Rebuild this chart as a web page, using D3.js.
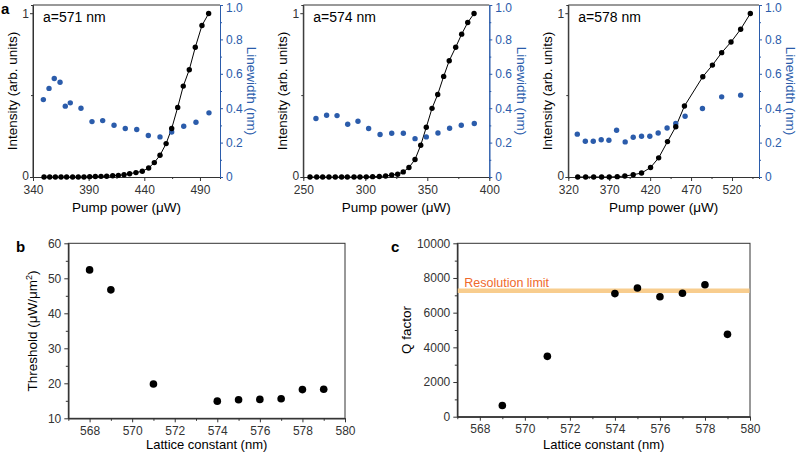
<!DOCTYPE html>
<html><head><meta charset="utf-8">
<script src="https://cdn.jsdelivr.net/npm/d3@7"></script>
<style>
body{margin:0;background:#fff}
svg{display:block}
text{font-family:"Liberation Sans",Arial,Helvetica,sans-serif}
</style>
</head><body>
<svg id="chart" width="798" height="457"></svg>
<script>
// ---------- DATA ----------
// Panel a, a = 571 nm
const a571Power = [349.9,355.0,360.1,365.2,370.2,375.6,380.7,385.8,390.9,396.0,401.1,406.2,411.6,416.7,421.8,426.8,432.5,438.2,443.9,449.0,454.1,459.6,464.6,470.0,475.0,480.4,485.8,491.8,497.8];
const a571Intensity = [0,0,0,0,0,0,0,0,0.002,0.003,0.004,0.005,0.008,0.010,0.014,0.020,0.027,0.035,0.055,0.088,0.133,0.204,0.296,0.425,0.555,0.655,0.792,0.925,0.998];
const a571LwPower = [349.3,354.4,359.1,364.3,369.0,373.5,383.1,393.0,402.6,412.8,422.9,433.2,443.6,454.1,464.6,475.4,486.4,498.1];
const a571Linewidth = [0.450,0.515,0.573,0.551,0.412,0.431,0.400,0.322,0.328,0.301,0.282,0.276,0.241,0.233,0.262,0.295,0.318,0.373];
// Panel a, a = 574 nm
const a574Power = [255.4,260.8,265.6,270.7,275.8,280.9,285.5,290.9,295.7,300.8,305.9,311.3,316.4,321.3,326.1,330.6,335.2,340.1,344.7,349.2,353.8,358.4,363.2,367.7,372.9,377.7,382.6,387.7];
const a574Intensity = [0,0,0,0,0,0,0,0,0,0.001,0.002,0.003,0.006,0.012,0.017,0.031,0.058,0.107,0.194,0.304,0.419,0.504,0.614,0.710,0.792,0.872,0.943,0.998];
const a574LwPower = [260.2,268.8,277.2,285.8,294.1,302.7,311.9,321.3,330.7,340.1,349.2,358.6,368.0,377.4,387.9];
const a574Linewidth = [0.340,0.359,0.357,0.307,0.324,0.282,0.247,0.254,0.254,0.223,0.233,0.256,0.283,0.301,0.311];
// Panel a, a = 578 nm
const a578Power = [331.5,341.2,351.0,360.7,370.0,379.8,389.1,399.3,409.5,420.5,430.4,441.2,451.3,461.9,484.3,496.1,507.4,518.8,530.6,542.4];
const a578Intensity = [0,0,0,0,0,0.002,0.006,0.014,0.024,0.058,0.117,0.216,0.307,0.433,0.612,0.683,0.759,0.824,0.902,0.998];
const a578LwPower = [331.0,340.8,350.5,360.2,369.6,379.0,389.5,399.3,409.5,419.6,429.8,440.7,451.3,462.7,483.9,507.4,530.6];
const a578Linewidth = [0.249,0.208,0.208,0.217,0.214,0.272,0.204,0.231,0.237,0.237,0.256,0.285,0.311,0.353,0.398,0.466,0.476];
// Tick labels panel a
const a571XTicks = [340,390,440,490];
const a574XTicks = [250,300,350,400];
const a578XTicks = [320,370,420,470,520];
const intensityTicks = [0,1];
const linewidthTicks = [0,0.2,0.4,0.6,0.8,1.0];
// Panel b
const bLattice = [568,569,571,574,575,576,577,578,579];
const bThreshold = [52.4,46.7,19.8,14.9,15.3,15.4,15.6,18.2,18.3];
const bYTicks = [10,20,30,40,50,60];
// Panel c
const cLattice = [569,571,574,575,576,577,578,579];
const cQ = [650,3480,7100,7420,6920,7120,7610,4750];
const cResolutionLimit = 7270;
const cYTicks = [0,2000,4000,6000,8000,10000];
const latticeTicks = [568,570,572,574,576,578,580];

// ---------- DRAW ----------
const svg = d3.select("#chart");
const BLUE = "#2b5cab";
const AX = "#333";

function styleAxis(sel, color, fs){
  sel.select(".domain").attr("stroke", color);
  sel.selectAll(".tick line").attr("stroke", color);
  sel.selectAll(".tick text").attr("fill", color).style("font-size", fs+"px")
     .style("font-family", '"Liberation Sans",Arial,sans-serif');
}

function drawA(cfg){
  const x = d3.scaleLinear().domain(cfg.xDomain).range(cfg.xRange);
  const yL = d3.scaleLinear().domain([0,1.05]).range([177,5]);
  const yR = d3.scaleLinear().domain([0,1]).range([177,5]);
  const g = svg.append("g");
  const [x0,x1] = cfg.xRange;
  g.append("line").attr("x1",x0).attr("x2",x1).attr("y1",5).attr("y2",5).attr("stroke",AX);
  const xMinor = g.append("g").attr("transform","translate(0,177)")
    .call(d3.axisBottom(x).tickValues(cfg.xMinor).tickSize(2).tickFormat(""));
  styleAxis(xMinor, AX, 12);
  const xa = g.append("g").attr("transform","translate(0,177)")
    .call(d3.axisBottom(x).tickValues(cfg.xTicks).tickSize(4).tickPadding(4).tickSizeOuter(0).tickFormat(d3.format("d")));
  styleAxis(xa, AX, 12);
  const yaMinor = g.append("g").attr("transform",`translate(${x0},0)`)
    .call(d3.axisLeft(yL).tickValues([0.5]).tickSize(2).tickFormat(""));
  styleAxis(yaMinor, AX, 12);
  const ya = g.append("g").attr("transform",`translate(${x0},0)`)
    .call(d3.axisLeft(yL).tickValues(intensityTicks).tickSize(3).tickPadding(1).tickSizeOuter(0).tickFormat(d3.format("d")));
  styleAxis(ya, AX, 12);
  ya.select(".domain").attr("d", `M0,177V5`);
  // lift the "0" a touch so it does not touch the first x label
  ya.selectAll(".tick text").filter(d => d === 0).attr("dy","0.2em");
  const yrMinor = g.append("g").attr("transform",`translate(${x1},0)`)
    .call(d3.axisRight(yR).tickValues([0.1,0.3,0.5,0.7,0.9]).tickSize(2).tickFormat(""));
  styleAxis(yrMinor, BLUE, 12);
  const yr = g.append("g").attr("transform",`translate(${x1},0)`)
    .call(d3.axisRight(yR).tickValues(linewidthTicks).tickSize(3).tickPadding(3).tickSizeOuter(0)
      .tickFormat(d => d===0 ? "0" : d3.format(".1f")(d)));
  styleAxis(yr, BLUE, 12);
  yr.selectAll(".tick text").filter(d => d === 1).attr("dy","0.52em");
  const pts = cfg.power.map((p,i)=>[p,cfg.intensity[i]]);
  g.append("path").datum(pts).attr("fill","none").attr("stroke","#000").attr("stroke-width",1)
    .attr("d", d3.line().x(d=>x(d[0])).y(d=>yL(d[1])));
  g.selectAll(".lw").data(cfg.lwPower.map((p,i)=>[p,cfg.linewidth[i]])).enter().append("circle")
    .attr("cx",d=>x(d[0])).attr("cy",d=>yR(d[1])).attr("r",2.7).attr("fill",BLUE);
  g.selectAll(".in").data(pts).enter().append("circle")
    .attr("cx",d=>x(d[0])).attr("cy",d=>yL(d[1])).attr("r",2.7).attr("fill","#000");
  g.append("text").attr("x",x0+10).attr("y",22).style("font-size","14px").text(cfg.label);
  g.append("text").attr("x",(x0+x1)/2).attr("y",212).attr("text-anchor","middle")
    .style("font-size","13.5px").text("Pump power (\u03bcW)");
  g.append("text").attr("transform",`translate(${x0-21},91) rotate(-90)`).attr("text-anchor","middle")
    .attr("dy","0.35em").style("font-size","13.5px").text("Intensity (arb. units)");
  g.append("text").attr("transform",`translate(${x1+32},91) rotate(90)`).attr("text-anchor","middle")
    .attr("dy","0.35em").style("font-size","13.5px").attr("fill",BLUE).text("Linewidth (nm)");
}

drawA({label:"a=571 nm", xDomain:[340,508], xRange:[33,220], xTicks:a571XTicks, xMinor:[365,415,465],
  power:a571Power, intensity:a571Intensity, lwPower:a571LwPower, linewidth:a571Linewidth});
drawA({label:"a=574 nm", xDomain:[250,400], xRange:[303.3,489.3], xTicks:a574XTicks, xMinor:[275,325,375],
  power:a574Power, intensity:a574Intensity, lwPower:a574LwPower, linewidth:a574Linewidth});
drawA({label:"a=578 nm", xDomain:[320,553], xRange:[568.3,759], xTicks:a578XTicks, xMinor:[345,395,445,495,545],
  power:a578Power, intensity:a578Intensity, lwPower:a578LwPower, linewidth:a578Linewidth});

function drawBox(cfg){
  const x = d3.scaleLinear().domain([567,580]).range(cfg.xRange);
  const y = d3.scaleLinear().domain(cfg.yDomain).range(cfg.yRange);
  const g = svg.append("g");
  const [x0,x1] = cfg.xRange, [yb,yt] = cfg.yRange;
  g.append("rect").attr("x",x0).attr("y",yt).attr("width",x1-x0).attr("height",yb-yt)
    .attr("fill","none").attr("stroke",AX);
  const xm = g.append("g").attr("transform",`translate(0,${yb})`)
    .call(d3.axisBottom(x).tickValues([567,569,571,573,575,577,579]).tickSize(2.5).tickFormat("").tickSizeOuter(0));
  styleAxis(xm, AX, 12);
  const xa = g.append("g").attr("transform",`translate(0,${yb})`)
    .call(d3.axisBottom(x).tickValues(latticeTicks).tickSize(4).tickPadding(4).tickSizeOuter(0).tickFormat(d3.format("d")));
  styleAxis(xa, AX, 12);
  const ym = g.append("g").attr("transform",`translate(${x0},0)`)
    .call(d3.axisLeft(y).tickValues(cfg.yMinor).tickSize(2.5).tickFormat("").tickSizeOuter(0));
  styleAxis(ym, AX, 12);
  const ya = g.append("g").attr("transform",`translate(${x0},0)`)
    .call(d3.axisLeft(y).tickValues(cfg.yTicks).tickSize(4).tickPadding(3).tickSizeOuter(0).tickFormat(d3.format("d")));
  styleAxis(ya, AX, 12);
  if (cfg.band !== undefined){
    g.append("line").attr("x1",x0+0.5).attr("x2",x1-0.5).attr("y1",y(cfg.band)).attr("y2",y(cfg.band))
      .attr("stroke","#f8cd8e").attr("stroke-width",4.5);
    g.append("text").attr("x",x0+7).attr("y",y(cfg.band)-4).attr("fill","#f0692a")
      .style("font-size","12.5px").text("Resolution limit");
  }
  g.selectAll(".p").data(cfg.xs.map((v,i)=>[v,cfg.ys[i]])).enter().append("circle")
    .attr("cx",d=>x(d[0])).attr("cy",d=>y(d[1])).attr("r",3.8).attr("fill","#000");
  g.append("text").attr("x",(x0+x1)/2).attr("y",449).attr("text-anchor","middle")
    .style("font-size","13px").text("Lattice constant (nm)");
  return g;
}

const gb = drawBox({xRange:[68.3,345], yDomain:[10,60], yRange:[418.3,243.3], yTicks:bYTicks,
  yMinor:[15,25,35,45,55], xs:bLattice, ys:bThreshold});
const tb = gb.append("text").attr("transform","translate(32,331) rotate(-90)").attr("text-anchor","middle")
  .attr("dy","0.35em").style("font-size","13.5px");
tb.append("tspan").text("Threshold (\u03bcW/\u03bcm");
tb.append("tspan").attr("dy","-5").style("font-size","9px").text("2");
tb.append("tspan").attr("dy","5").text(")");

const gc = drawBox({xRange:[457.3,750], yDomain:[0,10000], yRange:[416.7,243.3], yTicks:cYTicks,
  yMinor:[1000,3000,5000,7000,9000], xs:cLattice, ys:cQ, band:cResolutionLimit});
gc.append("text").attr("transform","translate(406,330) rotate(-90)").attr("text-anchor","middle")
  .attr("dy","0.35em").style("font-size","13.5px").text("Q factor");

svg.append("text").attr("x",1).attr("y",14).style("font-size","15px").style("font-weight","bold").text("a");
svg.append("text").attr("x",16).attr("y",252).style("font-size","15px").style("font-weight","bold").text("b");
svg.append("text").attr("x",391).attr("y",252).style("font-size","15px").style("font-weight","bold").text("c");
</script>
</body></html>
